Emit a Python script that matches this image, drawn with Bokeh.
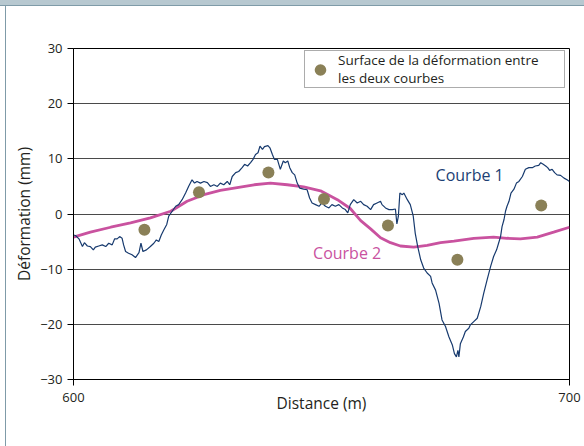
from bokeh.plotting import figure
from bokeh.models import FixedTicker, Label, Legend, LegendItem, Range1d
from bokeh.embed import file_html
from bokeh.resources import INLINE

# Courbe 1 (mesure, bruitée)
dist1 = [600.0, 600.4, 601.1, 601.8, 602.2, 602.8, 603.4, 604.0, 604.4, 605.1,
         605.8, 606.5, 607.1, 607.8, 608.3, 608.8, 609.3, 609.8, 610.1, 610.5,
         611.1, 611.8, 612.5, 613.2, 613.6, 614.0, 614.7, 615.5, 616.2, 616.7,
         617.2, 617.7, 618.2, 618.8, 619.2, 619.9, 620.6, 621.2, 621.9, 622.6,
         623.2, 623.9, 624.4, 624.9, 625.6, 626.3, 627.0, 627.6, 628.3, 629.0,
         629.6, 630.3, 631.0, 631.5, 632.0, 632.7, 633.3, 634.0, 634.5, 635.1,
         635.7, 636.2, 636.7, 637.2, 637.6, 638.1, 638.5, 639.2, 639.6, 640.1,
         640.5, 641.1, 641.7, 642.3, 642.7, 643.2, 643.6, 644.1, 644.6, 645.1,
         645.6, 646.4, 647.1, 647.6, 648.1, 648.8, 649.5, 650.1, 650.8, 651.5,
         652.1, 652.8, 653.5, 654.2, 654.8, 655.3, 655.8, 656.5, 657.2, 657.9,
         658.5, 659.2, 659.9, 660.5, 661.2, 661.9, 662.2, 662.9, 663.6, 664.3,
         664.9, 665.2, 665.5, 665.8, 666.3, 666.6, 667.3, 667.9, 668.5, 668.9,
         669.4, 670.0, 670.6, 671.3, 672.0, 672.3, 673.0, 673.7, 674.3, 675.0,
         675.7, 676.4, 676.8, 677.2, 677.5, 677.7, 678.0, 678.6, 679.0, 679.7,
         680.0, 680.7, 681.4, 682.1, 682.7, 683.4, 684.1, 684.7, 685.3, 685.7,
         686.1, 686.4, 686.8, 687.1, 687.4, 687.8, 688.2, 688.8, 689.3, 689.8,
         690.5, 691.1, 691.8, 692.5, 693.1, 693.8, 694.2, 694.7, 695.2, 695.6,
         696.0, 696.5, 697.0, 697.5, 698.2, 698.9, 699.5, 700.0]
defo1 = [-3.8, -3.9, -4.5, -5.9, -5.2, -5.8, -5.9, -6.5, -6.0, -5.8,
         -5.6, -5.9, -5.3, -5.6, -4.5, -4.5, -4.1, -4.4, -5.6, -6.8,
         -7.1, -7.4, -7.9, -7.0, -5.3, -6.8, -6.5, -5.9, -5.3, -4.7,
         -5.0, -3.8, -2.9, -1.9, -0.4, 0.5, 1.4, 1.7, 2.6, 3.8,
         5.0, 6.2, 5.6, 5.9, 5.6, 5.9, 5.7, 5.0, 5.3, 5.0,
         5.6, 5.3, 5.9, 5.3, 6.8, 7.5, 7.7, 8.4, 9.0, 8.7,
         9.3, 9.9, 10.8, 11.1, 12.3, 11.7, 12.2, 12.4, 12.0, 10.8,
         9.9, 9.9, 8.1, 9.6, 9.3, 9.6, 8.4, 7.5, 7.1, 5.6,
         4.7, 4.5, 4.4, 2.9, 2.0, 1.7, 1.4, 2.0, 1.4, 1.1,
         1.7, 1.4, 1.7, 1.1, 0.8, 0.2, 1.7, 2.6, 2.0, 2.3,
         1.7, 1.4, 0.8, 1.7, 2.0, 2.3, 1.7, 1.1, 0.8, 0.8,
         0.9, -1.8, -0.4, 3.8, 3.5, 3.8, 2.6, 1.7, -0.4, -3.5,
         -5.9, -8.3, -9.8, -10.7, -11.3, -12.5, -13.8, -16.2, -19.2, -20.4,
         -22.3, -23.8, -25.3, -25.9, -24.7, -25.9, -23.5, -22.3, -21.3, -20.7,
         -20.1, -19.5, -18.9, -16.8, -14.4, -11.9, -9.5, -7.7, -6.5, -5.3,
         -4.1, -2.3, -1.0, 0.5, 1.4, 2.3, 3.8, 4.5, 5.6, 5.9,
         6.8, 8.1, 8.4, 8.4, 8.7, 8.8, 9.3, 9.0, 8.7, 8.4,
         7.9, 8.1, 7.5, 7.1, 7.0, 6.5, 6.2, 5.9]

# Courbe 2 (lissée)
dist2 = [600.0, 603.4, 607.5, 611.5, 615.5, 619.6, 622.9, 626.3, 629.6, 633.0,
         636.4, 639.7, 643.1, 646.4, 649.8, 653.2, 655.8, 657.9, 659.9, 661.9,
         663.9, 665.9, 668.6, 671.3, 674.0, 676.7, 680.7, 684.7, 687.4, 690.1,
         693.5, 696.8, 700.0]
defo2 = [-4.2, -3.3, -2.4, -1.6, -0.7, 0.5, 2.3, 3.5, 4.3, 4.8,
         5.3, 5.6, 5.3, 4.9, 4.2, 2.6, 1.0, -1.2, -2.7, -4.3,
         -5.2, -5.8, -6.0, -5.7, -5.2, -4.9, -4.4, -4.2, -4.4, -4.5,
         -4.2, -3.3, -2.4]

# Surface de la déformation entre les deux courbes
surf_x = [614.3, 625.3, 639.3, 650.5, 663.4, 677.4, 694.3]
surf_y = [-2.85, 3.93, 7.51, 2.73, -2.07, -8.31, 1.53]

x_ticks = [600, 700]
y_ticks = [-30, -20, -10, 0, 10, 20, 30]

FONT = "Open Sans"
TXT = "#231f20"

p = figure(width=584, height=446, x_range=Range1d(600, 700), y_range=Range1d(-30, 30),
           output_backend="svg", toolbar_location=None,
           min_border_left=73, min_border_right=15, min_border_top=48, min_border_bottom=67,
           background_fill_color="white", border_fill_color="white", border_fill_alpha=0.0)

# cadre de la page (bandeau en haut, filet à gauche)
p.styles = {
    "background-color": "white",
    "box-shadow": ("inset 0 5px 0 0 #b7c8d0, inset 0 6px 0 0 #7f9ba8, "
                   "inset 5px 0 0 0 white, inset 6px 0 0 0 #7f9ba8"),
}

p.outline_line_color = "black"
p.outline_line_width = 1
p.xgrid.visible = False
p.ygrid.ticker = FixedTicker(ticks=y_ticks)
p.ygrid.grid_line_color = "#4a4a4a"
p.ygrid.grid_line_width = 1

p.xaxis.ticker = FixedTicker(ticks=x_ticks)
p.yaxis.ticker = FixedTicker(ticks=y_ticks)
for ax in (p.xaxis[0], p.yaxis[0]):
    ax.axis_line_color = "black"
    ax.major_tick_line_color = "black"
    ax.major_tick_out = 6
    ax.major_tick_in = 0
    ax.minor_tick_line_color = None
    ax.major_label_text_font = FONT
    ax.major_label_text_font_size = "13px"
    ax.major_label_text_color = TXT
    ax.axis_label_text_font = FONT
    ax.axis_label_text_font_size = "15.5px"
    ax.axis_label_text_font_style = "normal"
    ax.axis_label_text_color = TXT

p.xaxis.major_label_standoff = 7
p.yaxis.major_label_standoff = 5
p.xaxis.axis_label = "Distance (m)"
p.yaxis.axis_label = "Déformation (mm)"
p.xaxis.axis_label_standoff = -13
p.yaxis.axis_label_standoff = 2

r2 = p.line(dist2, defo2, line_color="#c9529f", line_width=2.8)
r1 = p.line(dist1, defo1, line_color="#173a6e", line_width=1.2)
rs = p.scatter(surf_x, surf_y, size=12, fill_color="#8a8057", line_color=None)

p.add_layout(Label(x=673.0, y=7.1, text="Courbe 1", text_font=FONT, text_font_size="16px",
                   text_color="#1c3f74", text_baseline="middle"))
p.add_layout(Label(x=648.3, y=-7.0, text="Courbe 2", text_font=FONT, text_font_size="16px",
                   text_color="#c9529f", text_baseline="middle"))

legend = Legend(items=[LegendItem(label="Surface de la déformation entre\nles deux courbes",
                                  renderers=[rs])],
                location=(231, 291), padding=0, margin=0, spacing=0,
                glyph_width=30, glyph_height=29, label_standoff=3,
                label_width=226, label_height=29,
                label_text_font=FONT, label_text_font_size="13.5px", label_text_color=TXT,
                label_text_line_height=0.92,
                border_line_color="#5a5a5a", border_line_width=1,
                background_fill_color="white", background_fill_alpha=1.0)
p.add_layout(legend)

open("out.html", "w").write(file_html(p, INLINE))
